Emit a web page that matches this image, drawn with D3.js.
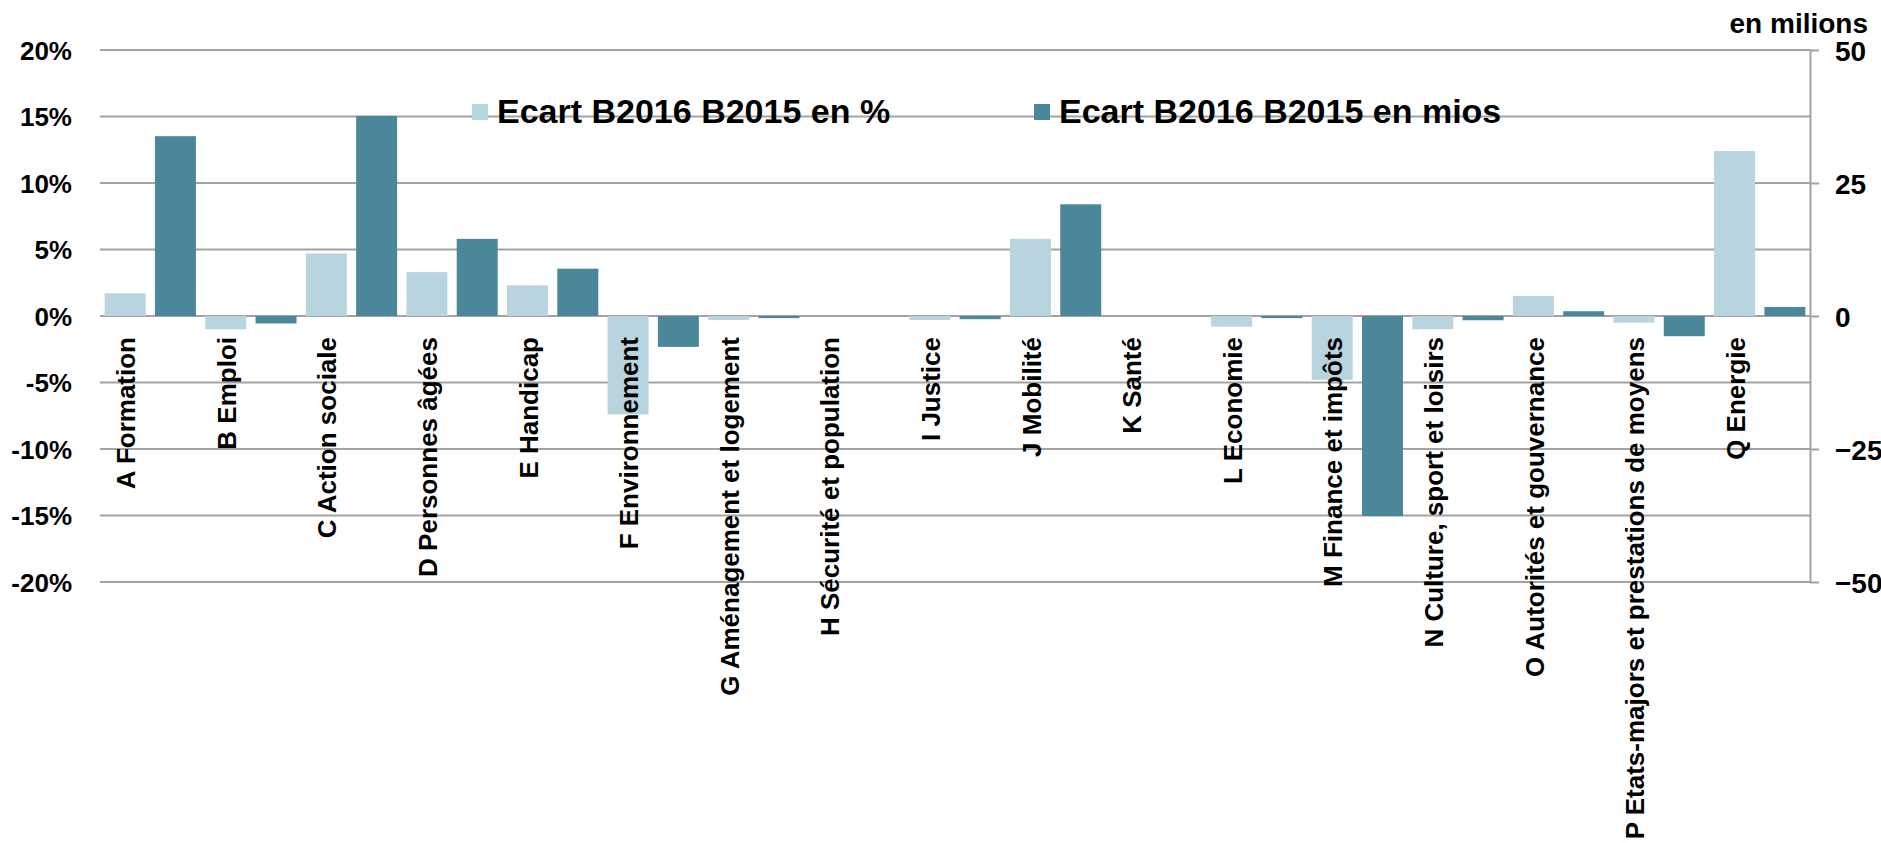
<!DOCTYPE html>
<html>
<head>
<meta charset="utf-8">
<script src="https://cdn.jsdelivr.net/npm/d3@7"></script>
<style>
  body { margin: 0; background: #fff; }
  text { font-family: "Liberation Sans", Arial, sans-serif; font-weight: bold; fill: #000; }
</style>
</head>
<body>
<svg id="chart"></svg>
<script>
// Categories and values
const categories = [
    "A Formation", "B Emploi", "C Action sociale", "D Personnes âgées", "E Handicap",
    "F Environnement", "G Aménagement et logement", "H Sécurité et population", "I Justice",
    "J Mobilité", "K Santé", "L Economie", "M Finance et impôts", "N Culture, sport et loisirs",
    "O Autorités et gouvernance", "P Etats-majors et prestations de moyens", "Q Energie"
];
// Ecart B2016 B2015 en % (left axis)
const ecartPct = [1.7, -1.0, 4.7, 3.3, 2.3, -7.4, -0.3, 0, -0.3, 5.8, 0, -0.8, -4.8, -1.0, 1.5, -0.5, 12.4];
// Ecart B2016 B2015 en mios (right axis)
const ecartMios = [33.8, -1.4, 37.6, 14.5, 8.9, -5.8, -0.4, 0, -0.6, 21.0, 0, -0.4, -37.6, -0.8, 0.9, -3.8, 1.7];

const pctTicks = [-20, -15, -10, -5, 0, 5, 10, 15, 20];
const miosTicks = [-50, -25, 0, 25, 50];
const seriesNames = ["Ecart B2016 B2015 en %", "Ecart B2016 B2015 en mios"];
const colors = ["#b8d4de", "#4b879a"];

const width = 1881, height = 843;
const margin = { top: 50, right: 71, bottom: 261, left: 100 };

const svg = d3.select("#chart")
    .attr("width", width)
    .attr("height", height);

// Scales
const x = d3.scaleBand()
    .domain(categories)
    .range([margin.left, width - margin.right])
    .padding(0);

const xSub = d3.scaleBand()
    .domain(["pct", "mios"])
    .range([0, x.bandwidth()])
    .paddingInner(0.185)
    .paddingOuter(0.0925);

const yPct = d3.scaleLinear()
    .domain([-20, 20])
    .range([height - margin.bottom, margin.top]);

const yMios = d3.scaleLinear()
    .domain([-50, 50])
    .range([height - margin.bottom, margin.top]);

// Gridlines
svg.append("g")
   .selectAll("line")
   .data(pctTicks)
   .join("line")
   .attr("x1", margin.left)
   .attr("x2", width - margin.right)
   .attr("y1", d => yPct(d))
   .attr("y2", d => yPct(d))
   .attr("stroke", "#a3a3a3")
   .attr("stroke-width", 2);

// Bars
const data = categories.map((c, i) => ({ cat: c, pct: ecartPct[i], mios: ecartMios[i] }));

svg.append("g")
   .selectAll("rect")
   .data(data)
   .join("rect")
   .attr("x", d => x(d.cat) + xSub("pct"))
   .attr("width", xSub.bandwidth())
   .attr("y", d => yPct(Math.max(0, d.pct)))
   .attr("height", d => Math.abs(yPct(d.pct) - yPct(0)))
   .attr("fill", colors[0]);

svg.append("g")
   .selectAll("rect")
   .data(data)
   .join("rect")
   .attr("x", d => x(d.cat) + xSub("mios"))
   .attr("width", xSub.bandwidth())
   .attr("y", d => yMios(Math.max(0, d.mios)))
   .attr("height", d => Math.abs(yMios(d.mios) - yMios(0)))
   .attr("fill", colors[1]);

// Left axis (labels only)
const leftAxis = svg.append("g")
   .attr("transform", `translate(${margin.left}, 0)`)
   .call(d3.axisLeft(yPct).tickValues(pctTicks).tickSize(0).tickPadding(28).tickFormat(d => d + "%"));
leftAxis.select(".domain").remove();
leftAxis.selectAll("text")
   .style("font-size", "26px")
   .attr("dy", "0.36em");

// Right axis
const rightAxis = svg.append("g")
   .attr("transform", `translate(${width - margin.right}, 0)`)
   .call(d3.axisRight(yMios).tickValues(miosTicks).tickSize(9).tickSizeOuter(0).tickPadding(16));
rightAxis.select(".domain").attr("stroke", "#a3a3a3").attr("stroke-width", 2);
rightAxis.selectAll(".tick line").attr("stroke", "#a3a3a3").attr("stroke-width", 2);
rightAxis.selectAll("text")
   .style("font-size", "28px")
   .attr("dy", "0.36em");

svg.append("text")
   .attr("x", 1868)
   .attr("y", 33)
   .attr("text-anchor", "end")
   .style("font-size", "28px")
   .text("en milions");

// Category labels, rotated
svg.append("g")
   .selectAll("text")
   .data(categories)
   .join("text")
   .attr("transform", d => `translate(${x(d) + x.bandwidth() / 2 - 15}, 337) rotate(-90)`)
   .attr("text-anchor", "end")
   .style("font-size", "26px")
   .text(d => d);

// Legend
const legendPos = [472, 1034];
const legend = svg.append("g")
   .selectAll("g")
   .data(seriesNames)
   .join("g")
   .attr("transform", (d, i) => `translate(${legendPos[i]}, 0)`);

legend.append("rect")
   .attr("x", 0)
   .attr("y", 104)
   .attr("width", 16)
   .attr("height", 16)
   .attr("fill", (d, i) => colors[i]);

legend.append("text")
   .attr("x", 25)
   .attr("y", 123)
   .style("font-size", "34px")
   .text(d => d);
</script>
</body>
</html>
